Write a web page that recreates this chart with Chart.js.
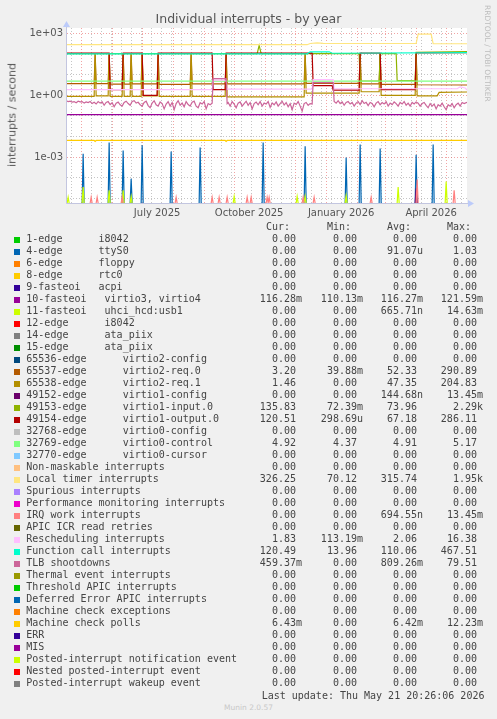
<!DOCTYPE html>
<html>
<head>
<meta charset="utf-8">
<script src="https://cdn.jsdelivr.net/npm/chart.js@4.4.1/dist/chart.umd.min.js"></script>
<style>
  html, body { margin: 0; padding: 0; background: #f0f0f0; }
  #wrap { position: relative; width: 497px; height: 719px; overflow: hidden; font-family: "DejaVu Sans", sans-serif; }
  #plot { position: absolute; left: 0; top: 0; }
  .title { position: absolute; left: 0; top: 10.5px; width: 497px; text-align: center; font-size: 12.5px; line-height: 15px; color: #555; }
  .ylab { position: absolute; left: 11.5px; top: 114.5px; transform: translate(-50%, -50%) rotate(-90deg); font-size: 11px; color: #555; white-space: nowrap; }
  .brand { position: absolute; left: 483px; top: 5px; writing-mode: vertical-rl; font-size: 7.5px; color: #bcbcbc; white-space: nowrap; }
  .mono { position: absolute; font-family: "DejaVu Sans Mono", monospace; font-size: 10px; line-height: 12px; color: #444; white-space: pre; }
  .sw { position: absolute; width: 6px; height: 6px; }
  .footer { position: absolute; left: 0; width: 497px; top: 703px; text-align: center; font-size: 7.5px; line-height: 9px; color: #c8c8c8; }
</style>
</head>
<body>
<div id="wrap">
  <canvas id="plot" width="497" height="230"></canvas>
  <div class="title">Individual interrupts - by year</div>
  <div class="ylab">interrupts / second</div>
  <div class="brand">RRDTOOL / TOBI OETIKER</div>
  <div id="legend"></div>
  <div class="footer">Munin 2.0.57</div>
</div>
<script>
// x values are days since 16 April 2025 00:00; the graph covers 400 days up to 21 May 2026 20:26
const X_MIN = 0.85;
const X_MAX = 400.85;
const Y_MIN = 5.8e-6;
const Y_MAX = 1900;

const monthStartDays = [15, 46, 76, 107, 138, 168, 199, 229, 260, 291, 319, 350, 380];
const minorGridDays = [5, 25, 35, 45, 55, 65, 75, 85, 95, 105, 115, 125, 135, 145, 155, 165, 175, 185, 195, 205, 215, 225, 235, 245, 255, 265, 275, 285, 295, 305, 315, 325, 335, 345, 355, 365, 375, 385, 395];
const xLabelDays = [91, 183, 275.01, 365.01];
const xLabels = ['July 2025', 'October 2025', 'January 2026', 'April 2026'];
const yGridValues = [1e-5, 1e-4, 1e-3, 1e-2, 1e-1, 1, 10, 100, 1000];
const yLabelValues = [1e-3, 1, 1000];
const yLabels = ['1e-03', '1e+00', '1e+03'];

const seriesNames = [
  '1-edge      i8042', '4-edge      ttyS0', '6-edge      floppy', '8-edge      rtc0',
  '9-fasteoi   acpi', '10-fasteoi   virtio3, virtio4', '11-fasteoi   uhci_hcd:usb1',
  '12-edge      i8042', '14-edge      ata_piix', '15-edge      ata_piix',
  '65536-edge      virtio2-config', '65537-edge      virtio2-req.0', '65538-edge      virtio2-req.1',
  '49152-edge      virtio1-config', '49153-edge      virtio1-input.0', '49154-edge      virtio1-output.0',
  '32768-edge      virtio0-config', '32769-edge      virtio0-control', '32770-edge      virtio0-cursor',
  'Non-maskable interrupts', 'Local timer interrupts', 'Spurious interrupts',
  'Performance monitoring interrupts', 'IRQ work interrupts', 'APIC ICR read retries',
  'Rescheduling interrupts', 'Function call interrupts', 'TLB shootdowns',
  'Thermal event interrupts', 'Threshold APIC interrupts', 'Deferred Error APIC interrupts',
  'Machine check exceptions', 'Machine check polls', 'ERR', 'MIS',
  'Posted-interrupt notification event', 'Nested posted-interrupt event', 'Posted-interrupt wakeup event'
];
const seriesColors = [
  '#00CC00', '#0066B3', '#FF8000', '#FFCC00', '#330099', '#990099', '#CCFF00', '#FF0000', '#808080',
  '#008F00', '#00487D', '#B35A00', '#B38F00', '#6B006B', '#8FB300', '#B30000', '#BEBEBE',
  '#80FF80', '#80C9FF', '#FFC080', '#FFE680', '#AA80FF', '#EE00CC', '#FF8080',
  '#666600', '#FFBFFF', '#00FFCC', '#CC6699', '#999900',
  '#00CC00', '#0066B3', '#FF8000', '#FFCC00', '#330099', '#990099', '#CCFF00', '#FF0000', '#808080'
];
const curValues = ['0.00', '0.00', '0.00', '0.00', '0.00', '116.28m', '0.00', '0.00', '0.00', '0.00', '0.00', '3.20', '1.46', '0.00', '135.83', '120.51', '0.00', '4.92', '0.00', '0.00', '326.25', '0.00', '0.00', '0.00', '0.00', '1.83', '120.49', '459.37m', '0.00', '0.00', '0.00', '0.00', '6.43m', '0.00', '0.00', '0.00', '0.00', '0.00'];
const minValues = ['0.00', '0.00', '0.00', '0.00', '0.00', '110.13m', '0.00', '0.00', '0.00', '0.00', '0.00', '39.88m', '0.00', '0.00', '72.39m', '298.69u', '0.00', '4.37', '0.00', '0.00', '70.12', '0.00', '0.00', '0.00', '0.00', '113.19m', '13.96', '0.00', '0.00', '0.00', '0.00', '0.00', '0.00', '0.00', '0.00', '0.00', '0.00', '0.00'];
const avgValues = ['0.00', '91.07u', '0.00', '0.00', '0.00', '116.27m', '665.71n', '0.00', '0.00', '0.00', '0.00', '52.33', '47.35', '144.68n', '73.96', '67.18', '0.00', '4.91', '0.00', '0.00', '315.74', '0.00', '0.00', '694.55n', '0.00', '2.06', '110.06', '809.26m', '0.00', '0.00', '0.00', '0.00', '6.42m', '0.00', '0.00', '0.00', '0.00', '0.00'];
const maxValues = ['0.00', '1.03', '0.00', '0.00', '0.00', '121.59m', '14.63m', '0.00', '0.00', '0.00', '0.00', '290.89', '204.83', '13.45m', '2.29k', '286.11', '0.00', '5.17', '0.00', '0.00', '1.95k', '0.00', '0.00', '13.45m', '0.00', '16.38', '467.51', '79.51', '0.00', '0.00', '0.00', '0.00', '12.23m', '0.00', '0.00', '0.00', '0.00', '0.00'];

// plotted series, [day, interrupts per second]
const ttyS0Spikes = [[17, 1.45e-3], [43, 5.1e-3], [57, 2.1e-3], [65, 8.7e-5], [76, 3.7e-3], [105, 1.85e-3], [134, 2.9e-3], [197, 5.1e-3], [239, 3.3e-3], [280, 9.6e-4], [294, 4.1e-3], [314, 2.6e-3], [350, 1.3e-3], [367, 4.1e-3]];
const virtio34 = [[0, 0.116], [400.85, 0.116]];
const usbSpikes = [[2, 1.1e-5], [17, 3.5e-5], [43, 2.4e-5], [57, 2.4e-5], [65, 1.2e-5], [168, 1.2e-5], [231, 1.2e-5], [239, 1.2e-5], [280, 1.3e-5], [332, 3.5e-5], [380, 6.5e-5]];
const virtio2Req0 = [[0, 3.7], [28, 3.7], [29, 110], [30, 3.7], [42, 3.7], [43, 110], [44, 3.5], [56, 3.5], [57, 110], [58, 3.5], [64, 3.5], [65, 110], [66, 3.6], [75, 3.6], [76, 110], [77, 3.6], [91, 3.6], [92, 110], [93, 3.4], [124, 3.4], [125, 110], [126, 3.6], [159, 3.6], [160, 110], [161, 3.6], [238, 3.6], [239, 110], [240, 3.8], [293, 3.8], [294, 110], [295, 3.6], [313, 3.6], [314, 110], [315, 3.4], [349, 3.4], [350, 110], [351, 3.3], [400.85, 3.2]];
const virtio2Req1 = [[0, 0.9], [28, 0.9], [29, 100], [30, 0.95], [42, 0.95], [43, 100], [44, 0.9], [56, 0.9], [57, 100], [58, 0.9], [64, 0.9], [65, 100], [66, 0.9], [75, 0.9], [76, 100], [77, 0.95], [91, 0.95], [92, 100], [93, 0.9], [124, 0.9], [125, 100], [126, 0.9], [159, 0.9], [160, 100], [161, 0.85], [238, 0.85], [239, 100], [240, 1.3], [293, 1.3], [294, 100], [295, 1.5], [313, 1.5], [314, 100], [315, 1.0], [349, 1.0], [350, 100], [351, 0.95], [371, 0.95], [373, 1.4], [400.85, 1.46]];
const virtio1ConfigSpikes = [[350, 3e-5]];
const virtio1Input = [[0, 108], [191, 108], [193, 270], [195, 108], [293, 108], [294, 5.0], [313, 5.0], [314, 108], [330, 108], [331, 5.2], [349, 5.2], [350, 125], [400.85, 135]];
const virtio1Output = [[0, 115], [43, 115], [44, 1.9], [56, 1.9], [57, 115], [76, 115], [77, 1.0], [91, 1.0], [92, 115], [146, 115], [147, 1.9], [159, 1.9], [160, 115], [246, 115], [247, 3.0], [266, 3.0], [267, 1.8], [293, 1.8], [294, 115], [314, 115], [315, 1.9], [349, 1.9], [350, 118], [400.85, 120]];
const virtio0Control = [[0, 4.9], [400.85, 4.92]];
const localTimer = [[0, 292], [241, 292], [244, 335], [251, 360], [257, 340], [350, 335], [352, 960], [365, 960], [367, 330], [400.85, 326]];
const irqWorkSpikes = [[25, 1.1e-5], [31, 1.1e-5], [56, 1.1e-5], [110, 1.1e-5], [146, 1.1e-5], [153, 1.1e-5], [161, 1.1e-5], [181, 1.1e-5], [185, 1.1e-5], [201, 1.1e-5], [203, 1.1e-5], [237, 1.1e-5], [248, 1.1e-5], [305, 1.1e-5], [351, 8e-5], [388, 2.4e-5]];
const rescheduling = [[0, 1.9], [146, 1.9], [147, 5.5], [160, 5.5], [161, 2.0], [246, 2.0], [247, 5.8], [267, 5.8], [268, 2.1], [391, 2.1], [394, 2.6], [399, 2.3], [400.85, 1.83]];
const functionCall = [[0, 105], [241, 105], [244, 132], [263, 132], [266, 112], [400.85, 120]];
const tlbShootdowns = [
  [0, 0.55], [2, 0.5], [4, 0.52], [6, 0.47], [8, 0.5], [10, 0.44], [12, 0.52], [14, 0.48], [16, 0.5], [18, 0.42], [20, 0.48], [22, 0.45], [24, 0.5], [26, 0.4], [28, 0.46],
  [30, 0.38], [32, 0.5], [34, 0.42], [36, 0.48], [38, 0.33], [40, 0.45], [42, 0.5], [44, 0.36], [46, 0.44], [48, 0.28], [50, 0.42], [52, 0.47], [54, 0.35], [56, 0.3], [58, 0.45], [60, 0.52], [62, 0.4], [64, 0.33], [66, 0.5], [68, 0.55], [70, 0.42], [72, 0.46], [74, 0.35], [76, 0.3],
  [78, 0.45], [80, 0.52], [82, 0.32], [84, 0.25], [86, 0.42], [88, 0.55], [90, 0.35], [92, 0.3], [94, 0.48], [96, 0.4], [98, 0.22], [100, 0.38], [102, 0.5], [104, 0.3], [106, 0.45], [108, 0.2], [110, 0.4], [112, 0.55], [114, 0.33], [116, 0.42], [118, 0.28], [120, 0.5], [122, 0.36], [124, 0.3], [126, 0.46], [128, 0.52], [130, 0.3], [132, 0.25], [134, 0.44], [136, 0.38], [138, 0.5], [140, 0.22], [142, 0.4], [144, 0.35], [146, 0.42],
  [147, 6.5], [160, 6.5],
  [161, 0.4], [162, 0.45], [164, 0.3], [166, 0.5], [168, 0.38], [170, 0.25], [172, 0.42], [174, 0.48], [176, 0.3], [178, 0.4], [180, 0.52], [182, 0.33], [184, 0.45], [186, 0.22], [188, 0.4], [190, 0.47], [192, 0.35], [194, 0.5], [196, 0.3], [198, 0.42], [200, 0.38], [202, 0.5], [204, 0.26], [206, 0.43], [208, 0.35], [210, 0.48], [212, 0.3], [214, 0.4], [216, 0.52], [218, 0.34], [220, 0.45], [222, 0.28], [224, 0.4], [226, 0.2], [228, 0.42], [230, 0.36], [232, 0.5], [234, 0.3], [236, 0.17], [238, 0.4], [240, 0.45], [242, 0.33], [244, 0.4], [246, 0.38],
  [247, 4.2], [267, 4.2],
  [268, 0.5], [270, 0.42], [272, 0.55], [274, 0.4], [276, 0.48], [278, 0.33], [280, 0.45], [282, 0.5], [284, 0.38], [286, 0.45], [288, 0.3], [290, 0.42], [292, 0.5], [294, 0.36], [296, 0.55], [298, 0.4], [300, 0.46], [302, 0.32], [304, 0.45], [306, 0.4], [308, 0.28], [310, 0.42], [312, 0.5], [314, 0.35], [316, 0.45], [318, 0.38], [320, 0.5], [322, 0.3], [324, 0.42], [326, 0.35], [328, 0.48], [330, 0.4], [332, 0.3], [334, 0.45], [336, 0.38], [338, 0.5], [340, 0.33], [342, 0.42], [344, 0.3], [346, 0.45], [348, 0.38], [350, 0.48], [352, 0.42], [354, 0.3], [356, 0.4], [358, 0.45], [360, 0.33], [362, 0.25], [364, 0.4], [366, 0.3], [368, 0.38], [370, 0.22], [372, 0.35], [374, 0.3], [376, 0.42], [378, 0.28], [380, 0.2], [382, 0.35], [384, 0.3], [386, 0.4], [388, 0.25], [390, 0.35], [392, 0.42], [394, 0.3], [396, 0.45], [398, 0.4], [400.85, 0.46]
];
const machineCheckPolls = [[0, 0.0064], [28, 0.0064], [29, 0.0058], [30, 0.0064], [159, 0.0064], [160, 0.0058], [161, 0.0064], [400.85, 0.0064]];

// legend index -> [points, isSpike]
const plotted = [
  [1, ttyS0Spikes, true], [5, virtio34, false], [6, usbSpikes, true],
  [11, virtio2Req0, false], [12, virtio2Req1, false], [13, virtio1ConfigSpikes, true],
  [14, virtio1Input, false], [15, virtio1Output, false], [17, virtio0Control, false],
  [20, localTimer, false], [23, irqWorkSpikes, true], [25, rescheduling, false],
  [26, functionCall, false], [27, tlbShootdowns, false], [32, machineCheckPolls, false]
];

const toPoints = (rows) => rows.map(([x, y]) => ({ x, y }));
// a zero reading sits on the floor of the log axis
const toSpikes = (rows) => rows.flatMap(([x, y]) => [
  { x: x - 1, y: Y_MIN }, { x, y }, { x: x + 1, y: Y_MIN }, { x: x + 1, y: null }
]);

const datasets = plotted.map(([idx, rows, spike]) => ({
  label: seriesNames[idx],
  data: spike ? toSpikes(rows) : toPoints(rows),
  borderColor: seriesColors[idx],
  borderWidth: 1.2,
  pointRadius: 0,
  tension: 0,
  spanGaps: false,
  order: -idx,
}));

const xTickValues = [...minorGridDays, ...monthStartDays, ...xLabelDays].sort((a, b) => a - b);

const plotBackground = {
  id: 'plotBackground',
  beforeDraw(chart) {
    const { ctx, chartArea: a } = chart;
    ctx.save();
    ctx.fillStyle = '#ffffff';
    ctx.fillRect(a.left, a.top, a.right - a.left, a.bottom - a.top);
    ctx.restore();
  },
};

const rrdAxes = {
  id: 'rrdAxes',
  afterDatasetsDraw(chart) {
    const { ctx, chartArea: a } = chart;
    ctx.save();
    ctx.strokeStyle = '#c3c6e0';
    ctx.lineWidth = 1;
    ctx.beginPath();
    ctx.moveTo(a.left - 0.5, a.bottom + 0.5);
    ctx.lineTo(a.right + 2, a.bottom + 0.5);
    ctx.moveTo(a.left - 0.5, a.bottom + 0.5);
    ctx.lineTo(a.left - 0.5, a.top - 2);
    ctx.stroke();
    ctx.fillStyle = '#bccbfa';
    ctx.beginPath();
    ctx.moveTo(a.right + 1, a.bottom - 3);
    ctx.lineTo(a.right + 7, a.bottom + 0.5);
    ctx.lineTo(a.right + 1, a.bottom + 4);
    ctx.fill();
    ctx.beginPath();
    ctx.moveTo(a.left - 4, a.top - 1);
    ctx.lineTo(a.left - 0.5, a.top - 7);
    ctx.lineTo(a.left + 3, a.top - 1);
    ctx.fill();
    ctx.restore();
  },
};

new Chart(document.getElementById('plot'), {
  type: 'line',
  data: { datasets },
  options: {
    responsive: false,
    animation: false,
    devicePixelRatio: 1,
    layout: { padding: { left: 0, right: 30, top: 28, bottom: 0 } },
    plugins: { legend: { display: false }, tooltip: { enabled: false } },
    scales: {
      x: {
        type: 'linear',
        min: X_MIN,
        max: X_MAX,
        afterFit: (scale) => { scale.height = 27; },
        afterBuildTicks: (scale) => { scale.ticks = xTickValues.map((value) => ({ value })); },
        grid: {
          drawTicks: false,
          lineWidth: 1,
          color: (ctx) => {
            const v = ctx.tick && ctx.tick.value;
            if (monthStartDays.includes(v)) return 'rgba(230, 90, 90, 0.55)';
            if (minorGridDays.includes(v)) return 'rgba(150, 150, 150, 0.55)';
            return 'rgba(0, 0, 0, 0)';
          },
        },
        border: { display: false, dash: [1, 2] },
        ticks: {
          autoSkip: false,
          maxRotation: 0,
          padding: 4,
          color: '#555',
          font: { family: 'DejaVu Sans', size: 10 },
          callback: (value) => {
            const i = xLabelDays.indexOf(value);
            return i >= 0 ? xLabels[i] : '';
          },
        },
      },
      y: {
        type: 'logarithmic',
        min: Y_MIN,
        max: Y_MAX,
        afterFit: (scale) => { scale.width = 67; },
        afterBuildTicks: (scale) => { scale.ticks = yGridValues.map((value) => ({ value })); },
        grid: {
          drawTicks: false,
          lineWidth: 1,
          color: (ctx) => {
            const v = ctx.tick && ctx.tick.value;
            return yLabelValues.includes(v) ? 'rgba(230, 90, 90, 0.55)' : 'rgba(150, 150, 150, 0.55)';
          },
        },
        border: { display: false, dash: [1, 2] },
        ticks: {
          autoSkip: false,
          padding: 4,
          color: '#555',
          font: { family: 'DejaVu Sans', size: 10 },
          callback: (value) => {
            const i = yLabelValues.indexOf(value);
            return i >= 0 ? yLabels[i] : '';
          },
        },
      },
    },
  },
  plugins: [plotBackground, rrdAxes],
});

// legend below the plot
const legend = document.getElementById('legend');
const addText = (text, left, top, right) => {
  const el = document.createElement('div');
  el.className = 'mono';
  el.textContent = text;
  el.style.top = top + 'px';
  if (right !== undefined) {
    el.style.right = (497 - right) + 'px';
    el.style.textAlign = 'right';
  } else {
    el.style.left = left + 'px';
  }
  legend.appendChild(el);
};
const withSuffix = (s) => (/[a-z]$/i.test(s) ? s : s + '\u00a0');
const columnRights = [302, 363, 423, 483];
const headers = ['Cur:', 'Min:', 'Avg:', 'Max:'];
headers.forEach((h, c) => addText(h, 0, 221, columnRights[c] - 12));
seriesNames.forEach((name, i) => {
  const top = 233.2 + 12 * i;
  const sw = document.createElement('div');
  sw.className = 'sw';
  sw.style.left = '14px';
  sw.style.top = (236.7 + 12 * i) + 'px';
  sw.style.background = seriesColors[i];
  legend.appendChild(sw);
  addText(name, 26.3, top);
  [curValues, minValues, avgValues, maxValues].forEach((col, c) => addText(withSuffix(col[i]), 0, top, columnRights[c]));
});
addText('Last update: Thu May 21 20:26:06 2026', 261.7, 689.5);
</script>
</body>
</html>
